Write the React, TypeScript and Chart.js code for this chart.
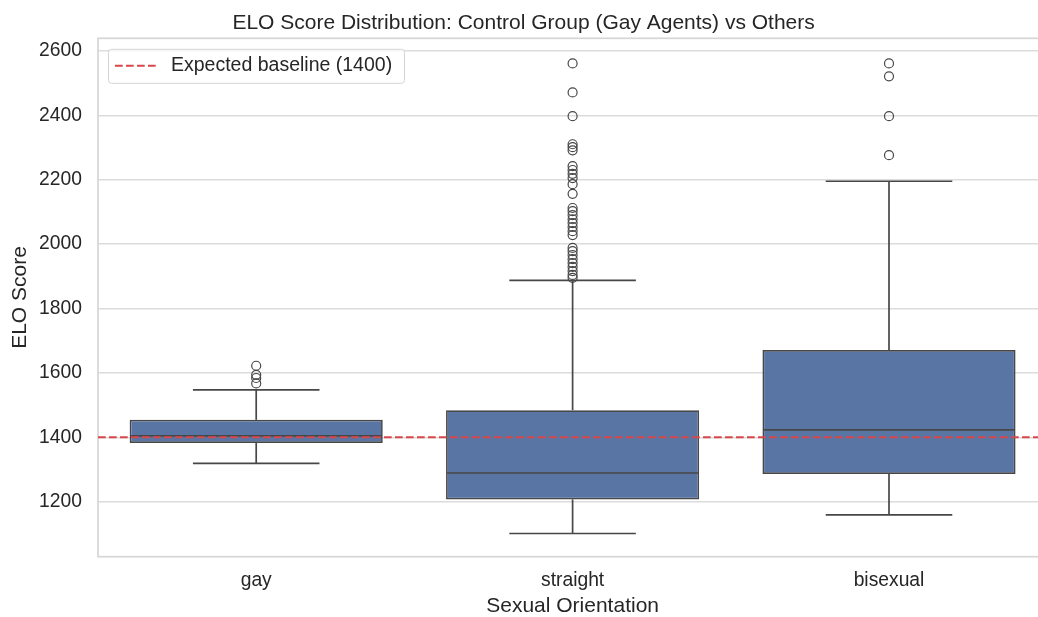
import React, { useEffect, useRef } from 'react';
import { Chart, registerables } from 'chart.js';

Chart.register(...registerables);

const categories = ['gay', 'straight', 'bisexual'];
const q1Values = [1382, 1207, 1286];
const medianValues = [1404, 1289, 1423];
const q3Values = [1454, 1484, 1671];
const whiskerLow = [1319, 1101, 1159];
const whiskerHigh = [1547, 1887, 2195];
const gayOutliers = [1622, 1594, 1584, 1567];
const straightOutliers = [
  2561, 2471, 2397, 2310, 2301, 2291, 2242, 2230, 2218, 2205, 2186, 2156,
  2112, 2102, 2090, 2077, 2065, 2053, 2040, 2028, 1988, 1978, 1966, 1953,
  1941, 1929, 1916, 1904, 1895,
];
const bisexualOutliers = [2561, 2521, 2397, 2276];
const yTicks = [1200, 1400, 1600, 1800, 2000, 2200, 2400, 2600];
const baselineValue = 1400;
const legendLabel = 'Expected baseline (1400)';

const FONT = "'Liberation Sans', Arial, Helvetica, sans-serif";
const TEXT = '#262626';
const LINE = '#474747';
const RED = '#d9474b';

export default function App() {
  const ref = useRef<HTMLCanvasElement>(null);

  useEffect(() => {
    if (!ref.current) return;

    const outlierPoints = [
      ...gayOutliers.map((v) => ({ x: categories[0], y: v })),
      ...straightOutliers.map((v) => ({ x: categories[1], y: v })),
      ...bisexualOutliers.map((v) => ({ x: categories[2], y: v })),
    ];

    const boxPlugin = {
      id: 'boxParts',
      beforeDatasetsDraw(chart: any) {
        const { ctx, chartArea } = chart;
        ctx.save();
        ctx.strokeStyle = '#d6d6d6';
        ctx.lineWidth = 1.7;
        ctx.strokeRect(chartArea.left, chartArea.top, chartArea.right - chartArea.left, chartArea.bottom - chartArea.top);
        ctx.restore();
      },
      afterDatasetsDraw(chart: any) {
        const { ctx, chartArea } = chart;
        const xs = chart.scales.x;
        const ys = chart.scales.y;
        const step = xs.getPixelForValue(1) - xs.getPixelForValue(0);
        const line = (x1: number, y1: number, x2: number, y2: number) => {
          ctx.beginPath();
          ctx.moveTo(x1, y1);
          ctx.lineTo(x2, y2);
          ctx.stroke();
        };
        ctx.save();
        ctx.strokeStyle = LINE;
        ctx.lineWidth = 1.7;
        categories.forEach((_, i) => {
          const cx = xs.getPixelForValue(i);
          const half = step * 0.4;
          const cap = step * 0.2;
          const yq1 = ys.getPixelForValue(q1Values[i]);
          const yq3 = ys.getPixelForValue(q3Values[i]);
          const ylo = ys.getPixelForValue(whiskerLow[i]);
          const yhi = ys.getPixelForValue(whiskerHigh[i]);
          const ymed = ys.getPixelForValue(medianValues[i]);
          line(cx, yq3, cx, yhi);
          line(cx - cap, yhi, cx + cap, yhi);
          line(cx, yq1, cx, ylo);
          line(cx - cap, ylo, cx + cap, ylo);
          line(cx - half + 1, ymed, cx + half - 1, ymed);
        });
        ctx.strokeStyle = RED;
        ctx.lineWidth = 2;
        ctx.setLineDash([7.7, 3.3]);
        const yb = ys.getPixelForValue(baselineValue);
        line(chartArea.left, yb, chartArea.right, yb);
        ctx.restore();
      },
      afterDraw(chart: any) {
        const { ctx, chartArea } = chart;
        const lx = chartArea.left + 10.5;
        const ly = chartArea.top + 11;
        const w = 296;
        const h = 34;
        ctx.save();
        ctx.beginPath();
        if ((ctx as any).roundRect) (ctx as any).roundRect(lx, ly, w, h, 3);
        else ctx.rect(lx, ly, w, h);
        ctx.fillStyle = 'rgba(255,255,255,0.8)';
        ctx.fill();
        ctx.strokeStyle = '#d4d4d4';
        ctx.lineWidth = 1;
        ctx.stroke();
        const cy = ly + 16.5;
        ctx.strokeStyle = RED;
        ctx.lineWidth = 2;
        ctx.setLineDash([7.7, 3.3]);
        ctx.beginPath();
        ctx.moveTo(lx + 6.5, cy);
        ctx.lineTo(lx + 47.5, cy);
        ctx.stroke();
        ctx.setLineDash([]);
        ctx.fillStyle = TEXT;
        ctx.font = `19.5px ${FONT}`;
        ctx.textBaseline = 'middle';
        ctx.textAlign = 'left';
        ctx.fillText(legendLabel, lx + 62.5, cy);
        ctx.restore();
      },
    };

    const chart = new Chart(ref.current, {
      type: 'bar',
      data: {
        labels: categories,
        datasets: [
          {
            type: 'bar',
            label: 'IQR',
            data: categories.map((_, i) => [q1Values[i], q3Values[i]]) as any,
            backgroundColor: '#5875a4',
            borderColor: LINE,
            borderWidth: 1.7,
            borderSkipped: false,
            barPercentage: 0.8,
            categoryPercentage: 1,
          },
          {
            type: 'scatter',
            label: 'Outliers',
            data: outlierPoints as any,
            pointRadius: 4.5,
            pointStyle: 'circle',
            backgroundColor: 'rgba(0,0,0,0)',
            borderColor: LINE,
            borderWidth: 1.2,
          } as any,
        ],
      },
      options: {
        responsive: false,
        animation: false,
        devicePixelRatio: 1,
        layout: { padding: { left: 0, right: 12.8, top: 0, bottom: 0 } },
        plugins: {
          legend: { display: false },
          tooltip: { enabled: false },
          title: {
            display: true,
            text: 'ELO Score Distribution: Control Group (Gay Agents) vs Others',
            color: TEXT,
            font: { family: FONT, size: 21, weight: 'normal', lineHeight: 1.2 },
            padding: { top: 10.7, bottom: 2.4 },
          },
        },
        scales: {
          x: {
            type: 'category',
            offset: true,
            grid: { display: false, drawTicks: false },
            border: { display: false },
            ticks: { color: TEXT, font: { family: FONT, size: 19.3 }, padding: 12 },
            title: {
              display: true,
              text: 'Sexual Orientation',
              color: TEXT,
              font: { family: FONT, size: 21, lineHeight: 1.0 },
              padding: { top: 0, bottom: 0 },
            },
            afterFit: (s: any) => {
              s.height = 60.3;
            },
          },
          y: {
            type: 'linear',
            min: 1029,
            max: 2639,
            grid: { color: '#dcdcdc', lineWidth: 1.4, drawTicks: false },
            border: { display: false },
            ticks: {
              color: TEXT,
              font: { family: FONT, size: 19.3 },
              padding: 16,
              callback: (v: any) => String(v),
            },
            afterBuildTicks: (s: any) => {
              s.ticks = yTicks.map((v) => ({ value: v }));
            },
            title: {
              display: true,
              text: 'ELO Score',
              color: TEXT,
              font: { family: FONT, size: 21, lineHeight: 1.2 },
              padding: { top: 8, bottom: 0 },
            },
            afterFit: (s: any) => {
              s.width = 98;
            },
          },
        },
      },
      plugins: [boxPlugin],
    });

    return () => chart.destroy();
  }, []);

  return (
    <div
      style={{
        position: 'absolute',
        left: 0,
        top: 0,
        width: 1038,
        height: 617,
        overflow: 'hidden',
        background: '#ffffff',
      }}
    >
      <canvas ref={ref} width={1060} height={617} style={{ display: 'block' }} />
    </div>
  );
}
